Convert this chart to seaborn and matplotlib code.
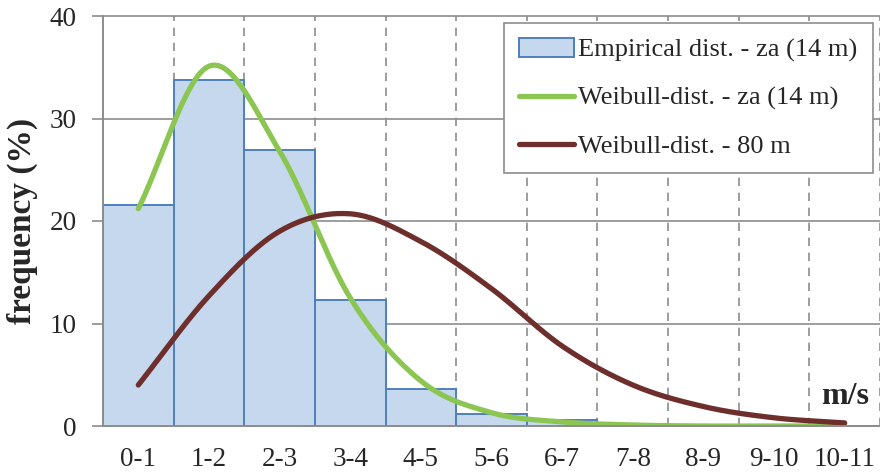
import numpy as np
import pandas as pd
import matplotlib
matplotlib.use("Agg")
import matplotlib.pyplot as plt
from matplotlib.patches import Patch
from matplotlib.lines import Line2D
import seaborn as sns

categories = ["0-1", "1-2", "2-3", "3-4", "4-5", "5-6", "6-7", "7-8", "8-9", "9-10", "10-11"]
empirical = [21.6, 33.8, 26.9, 12.3, 3.6, 1.2, 0.55, 0.0, 0.0, 0.0, 0.0]
weibull_za = [21.2, 35.1, 26.8, 12.5, 4.4, 1.3, 0.4, 0.1, 0.0, 0.0, 0.0]
weibull_80 = [4.0, 12.7, 19.0, 20.7, 18.0, 13.4, 7.8, 4.0, 1.9, 0.8, 0.3]

y_ticks = [0, 10, 20, 30, 40]

sns.set_theme(style="white")
plt.rcParams["font.family"] = ["Liberation Serif", "DejaVu Serif"]

GRID = "#8c8c8c"
GREEN = "#8cc652"
BROWN = "#6e2f2c"


def catmull_rom(xv, yv, n=40):
    xv = np.asarray(xv, float)
    yv = np.asarray(yv, float)
    px = np.concatenate([[2 * xv[0] - xv[1]], xv, [2 * xv[-1] - xv[-2]]])
    py = np.concatenate([[2 * yv[0] - yv[1]], yv, [2 * yv[-1] - yv[-2]]])
    outx, outy = [], []
    t = np.linspace(0, 1, n, endpoint=False)
    for i in range(1, len(px) - 2):
        for arr, out in ((px, outx), (py, outy)):
            p0, p1, p2, p3 = arr[i - 1], arr[i], arr[i + 1], arr[i + 2]
            out.extend(0.5 * ((2 * p1) + (-p0 + p2) * t
                              + (2 * p0 - 5 * p1 + 4 * p2 - p3) * t ** 2
                              + (-p0 + 3 * p1 - 3 * p2 + p3) * t ** 3))
    outx.append(xv[-1])
    outy.append(yv[-1])
    return np.array(outx), np.array(outy)


fig = plt.figure(figsize=(8.8, 4.75), dpi=100)
ax = fig.add_axes([103 / 880, 1 - 426 / 475, 777 / 880, 410 / 475])

df = pd.DataFrame({"cat": categories, "val": empirical})
sns.barplot(data=df, x="cat", y="val", ax=ax, width=1.0, color="#c5d8ee",
            edgecolor="#4f7fbf", linewidth=1.4, saturation=1, zorder=2)

xi = np.arange(len(categories))
gx, gy = catmull_rom(xi, weibull_za)
bx, by = catmull_rom(xi, weibull_80)
sns.lineplot(x=gx, y=gy, ax=ax, color=GREEN, linewidth=3.8, sort=False,
             estimator=None, zorder=4, solid_capstyle="round")
sns.lineplot(x=bx, y=by, ax=ax, color=BROWN, linewidth=3.8, sort=False,
             estimator=None, zorder=5, solid_capstyle="round")

ax.set_xlim(-0.5, len(categories) - 0.5)
ax.set_ylim(0, 40)
ax.set_yticks(y_ticks)

for y in y_ticks[1:]:
    ax.axhline(y, color=GRID, linewidth=1.2, zorder=1, clip_on=False)
for b in np.arange(0.5, len(categories), 1.0):
    ax.axvline(b, color=GRID, linewidth=1.2, linestyle=(0, (5, 4)), zorder=1)

for s in ["top", "right"]:
    ax.spines[s].set_visible(False)
ax.spines["left"].set_color(GRID)
ax.spines["left"].set_linewidth(1.4)
ax.spines["bottom"].set_color(GRID)
ax.spines["bottom"].set_linewidth(1.4)
ax.spines["left"].set_zorder(6)
ax.spines["bottom"].set_zorder(6)

ax.tick_params(axis="y", which="both", left=True, length=8, width=1.2,
               color=GRID, labelsize=19.5, pad=11)
ax.tick_params(axis="x", bottom=False, labelsize=19.5, pad=9)
ax.set_xlabel("")
ax.set_ylabel("frequency (%)", fontsize=24, fontweight="bold")
ax.yaxis.set_label_coords(-0.0837, 0.5)

ax.text(10.0, 2.85, "m/s", fontsize=23, fontweight="bold", ha="center",
        va="center", zorder=7)

handles = [
    Patch(facecolor="#c5d8ee", edgecolor="#4f7fbf", linewidth=1.4),
    Line2D([0], [0], color=GREEN, linewidth=3.8, solid_capstyle="round"),
    Line2D([0], [0], color=BROWN, linewidth=3.8, solid_capstyle="round"),
]
labels = ["Empirical dist. - za (14 m)", "Weibull-dist. - za (14 m)", "Weibull-dist. - 80 m"]
leg = ax.legend(handles, labels, loc="upper right",
                bbox_to_anchor=(873 / 880, 1 - 23 / 475),
                bbox_transform=fig.transFigure, borderaxespad=0,
                fontsize=19, frameon=True, fancybox=False, framealpha=1,
                handlelength=2.1, handletextpad=0.15, labelspacing=0.92,
                borderpad=0.58)
leg.get_frame().set_edgecolor(GRID)
leg.get_frame().set_linewidth(1.2)
leg.set_zorder(10)

fig.savefig("out.png", dpi=100)
